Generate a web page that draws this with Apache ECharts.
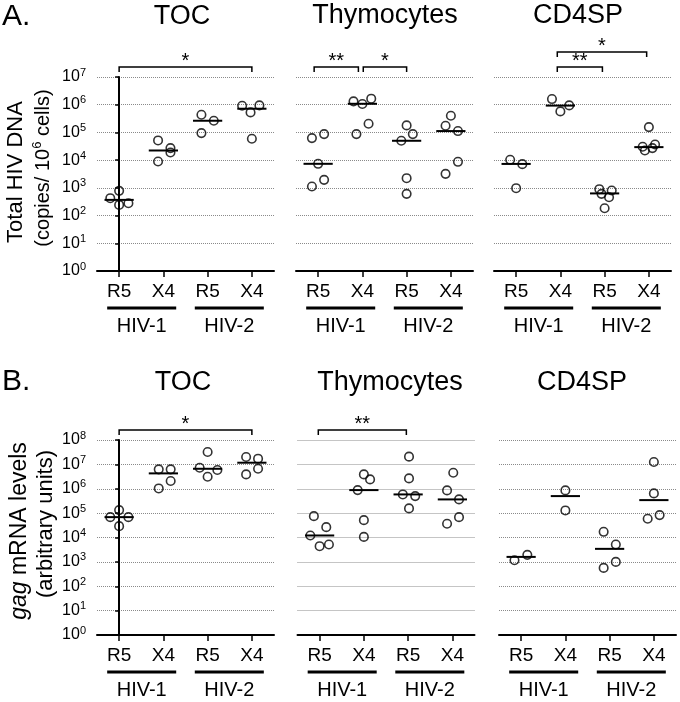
<!DOCTYPE html>
<html><head><meta charset="utf-8">
<script src="https://cdn.jsdelivr.net/npm/echarts@6/dist/echarts.min.js"></script>
<style>html,body{margin:0;padding:0;background:#fff}#c{width:680px;height:702px}</style>
</head><body><div id="c"></div>
<script>
// ---------- data ----------
const categories = ['R5', 'X4', 'R5', 'X4'];
const groups = ['HIV-1', 'HIV-2'];
const groupSpans = [[-0.27, 1.29], [1.71, 3.27]];
const rowYMax = [1e7, 1e8];
const panelTitles = ['TOC', 'Thymocytes', 'CD4SP'];

// Row A: total HIV DNA (copies/10^6 cells)
const A_TOC_values = [[424, 780, 243, 279], [51400, 27200, 18900, 8950], [435000, 264000, 94600], [920000, 946000, 529000, 59000]];
const A_TOC_jitter = [[-0.2, 0, 0, 0.21], [-0.12, 0.16, 0.16, -0.12], [-0.14, 0.14, -0.14], [-0.22, 0.17, -0.03, 0]];
const A_TOC_median = [368, 22300, 264000, 717000];
const A_TOC_sig = [[0, 3, 0, '*']];

const A_THY_values = [[62400, 87100, 7370, 1945, 1117], [1320000, 1060000, 1650000, 206000, 87100], [179000, 87100, 50000, 2234, 607], [400000, 174000, 112000, 8700, 3206]];
const A_THY_jitter = [[-0.14, 0.135, 0, 0.135, -0.14], [-0.2, 0, 0.2, 0.14, -0.135], [0, 0.14, -0.12, 0, 0], [0, -0.12, 0.16, 0.16, -0.12]];
const A_THY_median = [7370, 1080000, 50000, 112000];
const A_THY_sig = [[-0.09, 0.91, 0, '**'], [1.02, 2.0, 0, '*']];

const A_CD4_values = [[10300, 7160, 973], [1600000, 946000, 574000], [895, 801, 607, 460, 184], [156000, 30500, 22300, 27200, 36800]];
const A_CD4_jitter = [[-0.135, 0.14, 0], [-0.19, 0.2, 0], [-0.12, 0.16, -0.07, 0.1, 0], [0, -0.14, -0.09, 0.08, 0.14]];
const A_CD4_median = [7300, 930000, 630, 29500];
const A_CD4_sig = [[0.93, 1.95, 0, '**'], [0.93, 2.95, 1, '*']];

// Row B: gag mRNA levels (arbitrary units)
const B_TOC_values = [[68500, 133000, 68500, 29200], [6240000, 6240000, 2070000, 1030000], [32100000, 7300000, 5850000, 3110000], [20000000, 17100000, 6640000, 3880000]];
const B_TOC_jitter = [[-0.2, 0, 0.21, 0], [-0.105, 0.165, 0.165, -0.105], [0, -0.18, 0.22, 0], [-0.13, 0.14, 0.14, -0.13]];
const B_TOC_median = [68500, 4270000, 6600000, 11700000];
const B_TOC_sig = [[0, 3, 0, '*']];

const B_THY_values = [[75300, 26600, 12100, 4400, 5150], [3880000, 2420000, 881000, 51500, 10600], [20700000, 2660000, 585000, 500000, 156000], [4550000, 855000, 365000, 68500, 36500]];
const B_THY_jitter = [[-0.13, 0.15, -0.21, 0, 0.21], [0, 0.14, -0.14, 0, 0], [0.02, 0.02, -0.12, 0.16, 0.02], [0.02, -0.12, 0.15, 0.15, -0.12]];
const B_THY_median = [12100, 881000, 585000, 365000];
const B_THY_sig = [[-0.03, 1.96, 0, '**']];

const B_CD4_values = [[1170, 1940], [855000, 129000], [17100, 5150, 1000, 566], [12500000, 643000, 82800, 58500]];
const B_CD4_jitter = [[-0.15, 0.14], [0, 0], [-0.135, 0.14, 0.14, -0.135], [0, 0, 0.13, -0.14]];
const B_CD4_median = [1600, 500000, 3420, 342000];
const B_CD4_sig = [];

// ---------- layout ----------
const FONT = "'Liberation Sans', Arial, Helvetica, sans-serif";
const panels = [
  { row: 0, v: A_TOC_values, j: A_TOC_jitter, m: A_TOC_median, s: A_TOC_sig, left: 97, top: 77, height: 194, axis: true },
  { row: 0, v: A_THY_values, j: A_THY_jitter, m: A_THY_median, s: A_THY_sig, left: 296, top: 77, height: 194, axis: false },
  { row: 0, v: A_CD4_values, j: A_CD4_jitter, m: A_CD4_median, s: A_CD4_sig, left: 494, top: 77, height: 194, axis: false },
  { row: 1, v: B_TOC_values, j: B_TOC_jitter, m: B_TOC_median, s: B_TOC_sig, left: 97, top: 440, height: 195, axis: true },
  { row: 1, v: B_THY_values, j: B_THY_jitter, m: B_THY_median, s: B_THY_sig, left: 297.5, top: 440, height: 195, axis: false },
  { row: 1, v: B_CD4_values, j: B_CD4_jitter, m: B_CD4_median, s: B_CD4_sig, left: 499, top: 440, height: 195, axis: false }
];

const grids = [], xAxes = [], yAxes = [], series = [];
const sigLabels = ['*', '**'];

panels.forEach((p, i) => {
  const yMax = rowYMax[p.row];
  grids.push({ left: p.left, top: p.top, width: 177, height: p.height });
  xAxes.push({
    type: 'value', gridIndex: i, min: -0.5, max: 3.5,
    axisLine: { show: true, onZero: false, lineStyle: { color: '#000', width: 2 } },
    axisTick: { show: true, customValues: [0, 1, 2, 3], length: 6, lineStyle: { color: '#000', width: 1.5 } },
    axisLabel: { show: true, customValues: [0, 1, 2, 3], formatter: v => categories[Math.round(v)], fontSize: 19, color: '#000', fontFamily: FONT, margin: 11 },
    splitLine: { show: false }
  });
  yAxes.push({
    type: 'log', logBase: 10, gridIndex: i, min: 1, max: yMax,
    axisLine: { show: p.axis, lineStyle: { color: '#000', width: 2 } },
    axisTick: { show: p.axis, length: 4, lineStyle: { color: '#000', width: 1.5 } },
    axisLabel: {
      show: p.axis, margin: 11, color: '#000', fontFamily: FONT,
      formatter: v => '{b|10}{s|' + Math.round(Math.log10(v)) + '}',
      rich: { b: { fontSize: 16, lineHeight: 20, fontFamily: FONT, color: '#000' }, s: { fontSize: 11, lineHeight: 11, verticalAlign: 'top', fontFamily: FONT, color: '#000' } }
    },
    splitLine: { show: true, lineStyle: { type: 'dotted', color: '#8a8a8a', width: 1 } }
  });

  // points
  const pts = [];
  p.v.forEach((arr, c) => arr.forEach((val, k) => pts.push([c + p.j[c][k], val])));
  series.push({
    type: 'scatter', xAxisIndex: i, yAxisIndex: i, data: pts, symbol: 'circle', symbolSize: 8.5,
    itemStyle: { color: 'rgba(255,255,255,0)', borderColor: '#000', borderWidth: 1.6 },
    silent: true, animation: false, z: 3
  });
  // medians
  series.push({
    type: 'custom', xAxisIndex: i, yAxisIndex: i, data: p.m.map((m, c) => [c, m]), silent: true, animation: false, z: 4,
    renderItem: (params, api) => {
      const a = api.coord([api.value(0) - 0.33, api.value(1)]);
      const b = api.coord([api.value(0) + 0.33, api.value(1)]);
      return { type: 'line', shape: { x1: a[0], y1: a[1], x2: b[0], y2: b[1] }, style: { stroke: '#000', lineWidth: 2 } };
    }
  });
  // group underline + label
  series.push({
    type: 'custom', xAxisIndex: i, yAxisIndex: i, clip: false, silent: true, animation: false,
    data: groupSpans.map((g, gi) => [g[0], g[1], gi]),
    renderItem: (params, api) => {
      const a = api.coord([api.value(0), 1]);
      const b = api.coord([api.value(1), 1]);
      const y = a[1] + 37;
      const t = groups[api.value(2)];
      return { type: 'group', children: [
        { type: 'line', shape: { x1: a[0], y1: y, x2: b[0], y2: y }, style: { stroke: '#000', lineWidth: 3 } },
        { type: 'text', style: { x: (a[0] + b[0]) / 2, y: y + 18, text: t, fill: '#000', font: '20px ' + FONT, align: 'center', verticalAlign: 'middle', textAlign: 'center', textVerticalAlign: 'middle' } }
      ] };
    }
  });
  // significance brackets
  if (p.s.length) {
    series.push({
      type: 'custom', xAxisIndex: i, yAxisIndex: i, clip: false, silent: true, animation: false,
      data: p.s.map(s => [s[0], s[1], s[2], sigLabels.indexOf(s[3])]),
      renderItem: (params, api) => {
        const a = api.coord([api.value(0), yMax]);
        const b = api.coord([api.value(1), yMax]);
        const y = a[1] - (api.value(2) ? 25 : 10);
        const t = sigLabels[api.value(3)];
        return { type: 'group', children: [
          { type: 'polyline', shape: { points: [[a[0], y + 5], [a[0], y], [b[0], y], [b[0], y + 5]] }, style: { stroke: '#000', lineWidth: 1.5, fill: null } },
          { type: 'text', style: { x: (a[0] + b[0]) / 2, y: y + 4, text: t, fill: '#000', font: '20px ' + FONT, align: 'center', verticalAlign: 'bottom', textAlign: 'center', textVerticalAlign: 'bottom' } }
        ] };
      }
    });
  }
});

// ---------- titles and axis names ----------
const txt = (x, y, text, size, extra) => Object.assign({
  type: 'text', x: x, y: y,
  style: { text: text, fill: '#000', font: size + 'px ' + FONT, align: 'center', verticalAlign: 'middle', textAlign: 'center', textVerticalAlign: 'middle' }
}, extra || {});

const graphics = [
  txt(2, 17, 'A.', 30, { style: { text: 'A.', fill: '#000', font: '30px ' + FONT, align: 'left', verticalAlign: 'middle', textAlign: 'left', textVerticalAlign: 'middle' } }),
  txt(2, 382, 'B.', 30, { style: { text: 'B.', fill: '#000', font: '30px ' + FONT, align: 'left', verticalAlign: 'middle', textAlign: 'left', textVerticalAlign: 'middle' } }),
  txt(182, 17, panelTitles[0], 27),
  txt(385, 16, panelTitles[1], 27),
  txt(578, 16, panelTitles[2], 27),
  txt(183, 383, panelTitles[0], 27),
  txt(390, 383, panelTitles[1], 27),
  txt(582, 383, panelTitles[2], 27),
  {
    type: 'text', x: 16, y: 172, rotation: Math.PI / 2,
    style: { text: 'Total HIV DNA', fill: '#000', font: '22px ' + FONT, align: 'center', verticalAlign: 'middle', textAlign: 'center', textVerticalAlign: 'middle' }
  },
  {
    type: 'text', x: 43, y: 168, rotation: Math.PI / 2,
    style: {
      text: '{n|(copies/ 10}{s|6}{n| cells)}', fill: '#000', align: 'center', verticalAlign: 'middle', textAlign: 'center', textVerticalAlign: 'middle',
      rich: { n: { fontSize: 20, lineHeight: 24, fontFamily: FONT, fill: '#000' }, s: { fontSize: 13, lineHeight: 13, verticalAlign: 'top', fontFamily: FONT, fill: '#000' } }
    }
  },
  {
    type: 'text', x: 20, y: 531, rotation: Math.PI / 2,
    style: {
      text: '{i|gag}{n| mRNA levels}', fill: '#000', align: 'center', verticalAlign: 'middle', textAlign: 'center', textVerticalAlign: 'middle',
      rich: { i: { fontSize: 23, fontStyle: 'italic', fontFamily: FONT, fill: '#000' }, n: { fontSize: 23, fontFamily: FONT, fill: '#000' } }
    }
  },
  {
    type: 'text', x: 46, y: 524, rotation: Math.PI / 2,
    style: { text: '(arbitrary units)', fill: '#000', font: '22px ' + FONT, align: 'center', verticalAlign: 'middle', textAlign: 'center', textVerticalAlign: 'middle' }
  }
];

const chart = echarts.init(document.getElementById('c'), null, { renderer: 'canvas' });
chart.setOption({
  animation: false,
  backgroundColor: '#fff',
  textStyle: { fontFamily: FONT },
  grid: grids, xAxis: xAxes, yAxis: yAxes, series: series,
  graphic: graphics
});
</script>
</body></html>
